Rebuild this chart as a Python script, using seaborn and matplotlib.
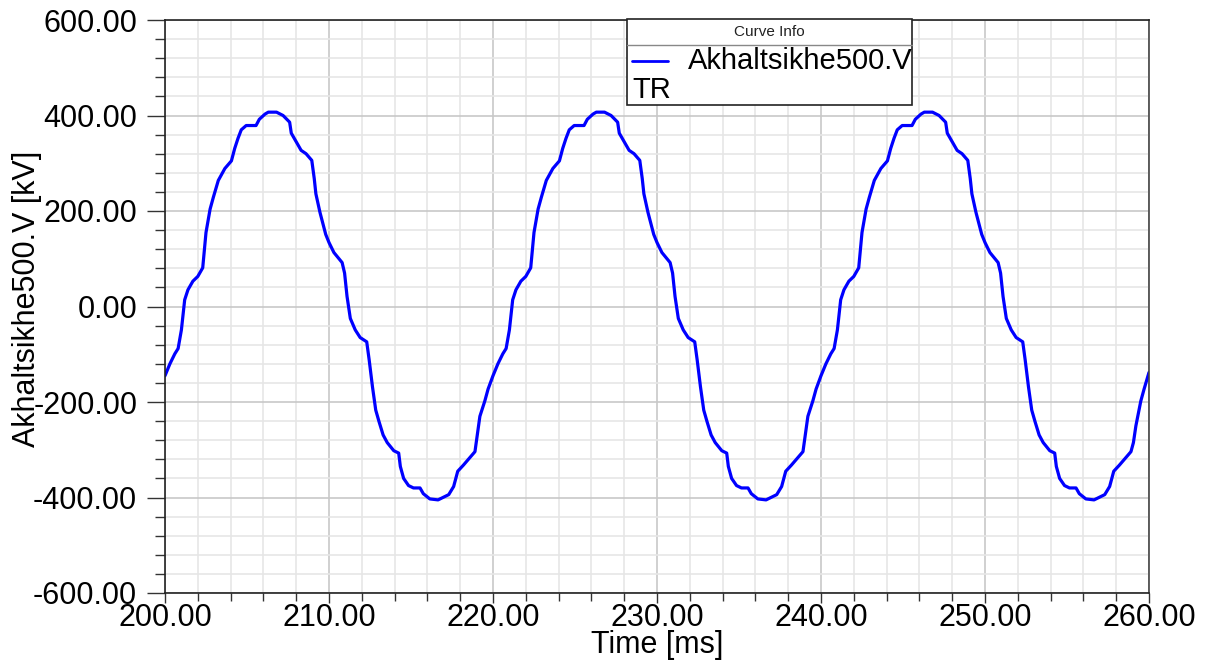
import numpy as np
import pandas as pd
import matplotlib
matplotlib.use("Agg")
import matplotlib.pyplot as plt
import seaborn as sns
from matplotlib.ticker import MultipleLocator, FormatStrFormatter
from matplotlib.patches import Rectangle
from matplotlib.lines import Line2D

# ---- data ----
time_ms = [
    200.0, 200.3, 200.6, 200.8, 201.0, 201.2, 201.4, 201.7, 202.0, 202.3,
    202.5, 202.75, 202.95, 203.25, 203.65, 204.05, 204.25, 204.45, 204.65, 204.95,
    205.55, 205.75, 206.1, 206.3, 206.8, 207.2, 207.6, 207.7, 208.0, 208.3,
    208.6, 208.95, 209.1, 209.2, 209.45, 209.8, 210.0, 210.3, 210.8, 210.95,
    211.1, 211.3, 211.6, 211.9, 212.3, 212.45, 212.65, 212.85, 213.05, 213.3,
    213.55, 213.95, 214.25, 214.35, 214.55, 214.85, 215.15, 215.55, 215.75, 216.15,
    216.65, 216.95, 217.3, 217.6, 217.85, 218.2, 218.5, 218.9, 219.0, 219.2,
    219.5, 219.7,
    220.0, 220.3, 220.6, 220.8, 221.0, 221.2, 221.4, 221.7, 222.0, 222.3,
    222.5, 222.75, 222.95, 223.25, 223.65, 224.05, 224.25, 224.45, 224.65, 224.95,
    225.55, 225.75, 226.1, 226.3, 226.8, 227.2, 227.6, 227.7, 228.0, 228.3,
    228.6, 228.95, 229.1, 229.2, 229.45, 229.8, 230.0, 230.3, 230.8, 230.95,
    231.1, 231.3, 231.6, 231.9, 232.3, 232.45, 232.65, 232.85, 233.05, 233.3,
    233.55, 233.95, 234.25, 234.35, 234.55, 234.85, 235.15, 235.55, 235.75, 236.15,
    236.65, 236.95, 237.3, 237.6, 237.85, 238.2, 238.5, 238.9, 239.0, 239.2,
    239.5, 239.7,
    240.0, 240.3, 240.6, 240.8, 241.0, 241.2, 241.4, 241.7, 242.0, 242.3,
    242.5, 242.75, 242.95, 243.25, 243.65, 244.05, 244.25, 244.45, 244.65, 244.95,
    245.55, 245.75, 246.1, 246.3, 246.8, 247.2, 247.6, 247.7, 248.0, 248.3,
    248.6, 248.95, 249.1, 249.2, 249.45, 249.8, 250.0, 250.3, 250.8, 250.95,
    251.1, 251.3, 251.6, 251.9, 252.3, 252.45, 252.65, 252.85, 253.05, 253.3,
    253.55, 253.95, 254.25, 254.35, 254.55, 254.85, 255.15, 255.55, 255.75, 256.15,
    256.65, 256.95, 257.3, 257.6, 257.85, 258.2, 258.5, 258.9, 259.05, 259.2,
    259.5, 259.7, 260.0,
]
voltage_kv = [
    -145, -120, -99, -88, -49, 14, 35, 53, 63, 81,
    155, 204, 229, 264, 289, 305, 331, 352, 370, 379,
    379, 392, 403, 407, 407, 400, 386, 363, 345, 327,
    320, 306, 268, 236, 197, 151, 134, 113, 92, 70,
    21, -25, -49, -65, -74, -112, -168, -217, -241, -269,
    -285, -302, -307, -335, -360, -375, -380, -380, -392, -403,
    -405, -400, -394, -377, -345, -332, -320, -304, -279, -230,
    -198, -173,
    -145, -120, -99, -88, -49, 14, 35, 53, 63, 81,
    155, 204, 229, 264, 289, 305, 331, 352, 370, 379,
    379, 392, 403, 407, 407, 400, 386, 363, 345, 327,
    320, 306, 268, 236, 197, 151, 134, 113, 92, 70,
    21, -25, -49, -65, -74, -112, -168, -217, -241, -269,
    -285, -302, -307, -335, -360, -375, -380, -380, -392, -403,
    -405, -400, -394, -377, -345, -332, -320, -304, -279, -230,
    -198, -173,
    -145, -120, -99, -88, -49, 14, 35, 53, 63, 81,
    155, 204, 229, 264, 289, 305, 331, 352, 370, 379,
    379, 392, 403, 407, 407, 400, 386, 363, 345, 327,
    320, 306, 268, 236, 197, 151, 134, 113, 92, 70,
    21, -25, -49, -65, -74, -112, -168, -217, -241, -269,
    -285, -302, -307, -335, -360, -375, -380, -380, -392, -403,
    -405, -400, -394, -377, -345, -332, -320, -304, -285, -250,
    -198, -173, -138,
]
series_name = "Akhaltsikhe500.V"
legend_title = "Curve Info"
legend_line1 = "Akhaltsikhe500.V"
legend_line2 = "TR"
x_label = "Time [ms]"
y_label = "Akhaltsikhe500.V [kV]"

df = pd.DataFrame({"t": time_ms, "v": voltage_kv})

sns.set_theme(style="white")
plt.rcParams["font.family"] = ["Liberation Sans", "DejaVu Sans"]

fig = plt.figure(figsize=(12.08, 6.63), dpi=100)
ax = fig.add_axes([165 / 1208, 70 / 663, 984 / 1208, 573 / 663])

sns.lineplot(data=df, x="t", y="v", ax=ax, color="#0000ff", lw=2.3,
             estimator=None, sort=False)

ax.set_xlim(200, 260)
ax.set_ylim(-600, 600)
ax.xaxis.set_major_locator(MultipleLocator(10))
ax.xaxis.set_minor_locator(MultipleLocator(2))
ax.yaxis.set_major_locator(MultipleLocator(200))
ax.yaxis.set_minor_locator(MultipleLocator(40))
ax.xaxis.set_major_formatter(FormatStrFormatter("%.2f"))
ax.yaxis.set_major_formatter(FormatStrFormatter("%.2f"))

ax.grid(which="major", color="#c8c8c8", lw=1.2, zorder=0)
ax.grid(which="minor", color="#e6e6e6", lw=1.2, zorder=0)
ax.set_axisbelow(True)

ax.tick_params(axis="x", which="major", direction="out", length=7, width=1,
               color="#333333", labelsize=22, pad=0.5, labelcolor="black")
ax.tick_params(axis="x", which="minor", direction="out", length=5.5, width=1,
               color="#333333")
ax.tick_params(axis="y", which="major", direction="out", length=13, width=1,
               color="#333333", labelsize=22, pad=7, labelcolor="black")
ax.tick_params(axis="y", which="minor", direction="out", length=7, width=1,
               color="#333333")
ax.tick_params(bottom=True, left=True, which="both")

for side in ["left", "bottom", "top", "right"]:
    ax.spines[side].set_visible(True)
    ax.spines[side].set_color("#222222")
    ax.spines[side].set_linewidth(1.2)
ax.spines["right"].set_color("#444444")

ax.set_xlabel(x_label, fontsize=22, color="black")
ax.xaxis.set_label_coords(0.5, (593 - 630) / 573)
ax.set_ylabel(y_label, fontsize=22, color="black")
ax.yaxis.set_label_coords((27 - 165) / 984, (593 - 299) / 573)
ax.yaxis.label.set_va("center")

# ---- "Curve Info" box ----
T = ax.transAxes
x0, x1 = (627 - 165) / 984, (912 - 165) / 984
yb, yt = (593 - 105) / 573, (593 - 19) / 573
ysep = (593 - 45) / 573
ax.add_patch(Rectangle((x0, yb), x1 - x0, yt - yb, transform=T,
                       facecolor="white", edgecolor="#222222", lw=1.2,
                       zorder=5, clip_on=False))
ax.add_line(Line2D([x0, x1], [ysep, ysep], transform=T, color="#888888",
                   lw=1, zorder=6, clip_on=False))
ax.text((x0 + x1) / 2, (593 - 32) / 573, legend_title, transform=T,
        ha="center", va="center", fontsize=11, color="#222222", zorder=7)
ax.add_line(Line2D([(632 - 165) / 984, (668 - 165) / 984],
                   [(593 - 61) / 573] * 2, transform=T, color="#0000ff",
                   lw=2, zorder=7, clip_on=False))
ax.text((688 - 165) / 984, (593 - 61) / 573, legend_line1, transform=T,
        ha="left", va="center", fontsize=21, color="black", zorder=7)
ax.text((632 - 165) / 984, (593 - 90) / 573, legend_line2, transform=T,
        ha="left", va="center", fontsize=21, color="black", zorder=7)

fig.savefig("out.png", dpi=100, facecolor="white")
